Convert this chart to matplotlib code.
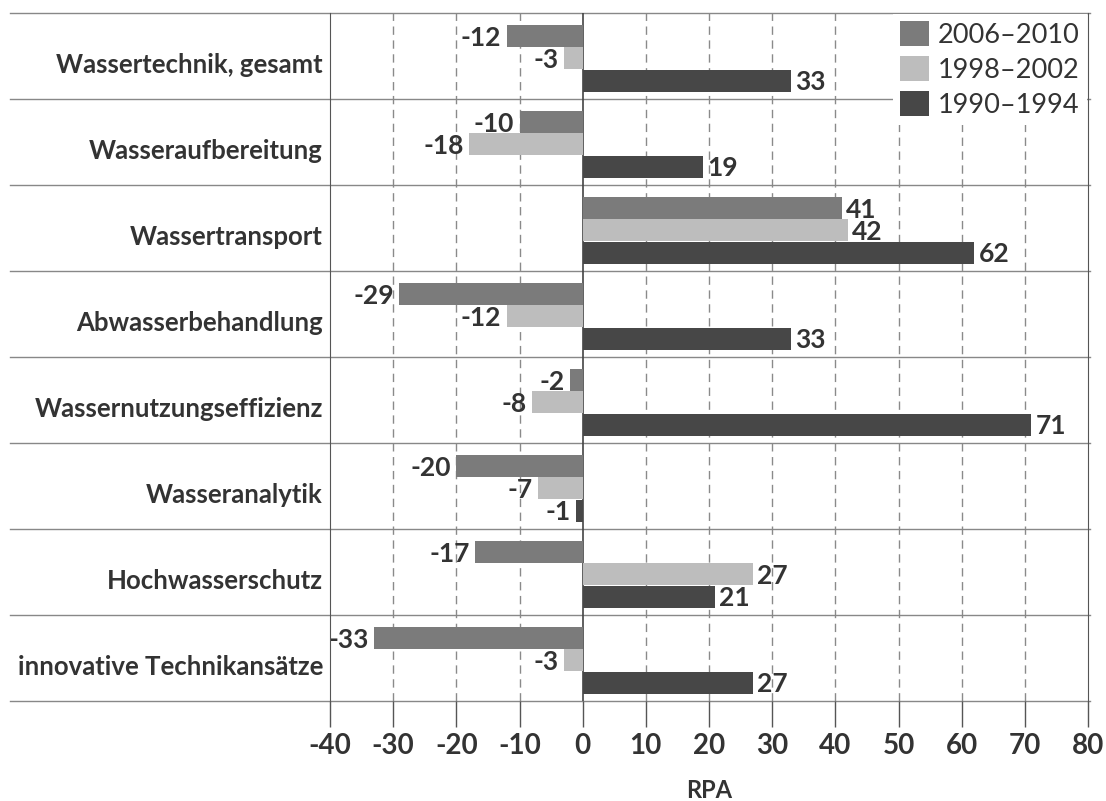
import matplotlib
matplotlib.use("Agg")
import matplotlib.pyplot as plt
from matplotlib.patches import Patch
import matplotlib.transforms as mtransforms

categories = ["Wassertechnik, gesamt", "Wasseraufbereitung", "Wassertransport",
              "Abwasserbehandlung", "Wassernutzungseffizienz", "Wasseranalytik",
              "Hochwasserschutz", "innovative Technikansätze"]
series_names = ["2006–2010", "1998–2002", "1990–1994"]
v2006 = [-12, -10, 41, -29, -2, -20, -17, -33]
v1998 = [-3, -18, 42, -12, -8, -7, 27, -3]
v1990 = [33, 19, 62, 33, 71, -1, 21, 27]
xticks = [-40, -30, -20, -10, 0, 10, 20, 30, 40, 50, 60, 70, 80]
x_label = "RPA"

colors = ["#7b7b7b", "#bdbdbd", "#474747"]
txt = "#333333"
plt.rcParams['font.family'] = ['Lato', 'DejaVu Sans']
plt.rcParams['font.weight'] = 'bold'

W, H = 1106, 801
fig = plt.figure(figsize=(W / 100, H / 100), dpi=100)
L, R, T, B = 330, 1088, 13, 701
ax = fig.add_axes([L / W, 1 - B / H, (R - L) / W, (B - T) / H])
ax.set_xlim(-40, 80)
ax.set_ylim(len(categories), 0)

offsets = [0.27, 0.525, 0.79]
bh = 0.25
for s, vals in enumerate([v2006, v1998, v1990]):
    for i, v in enumerate(vals):
        y = i + offsets[s]
        ax.barh(y, v, height=bh, color=colors[s], zorder=3, linewidth=0)
        if v < 0:
            ax.annotate(str(v), (v, y), xytext=(-4, -1), textcoords="offset points",
                        ha="right", va="center", fontsize=19, fontweight="bold",
                        color=txt, zorder=4)
        else:
            ax.annotate(str(v), (v, y), xytext=(3, -1), textcoords="offset points",
                        ha="left", va="center", fontsize=19, fontweight="bold",
                        color=txt, zorder=4)

# gridlines
for xv in xticks[1:-1]:
    if xv == 0:
        ax.axvline(0, color="#444444", lw=1.2, zorder=2)
    else:
        ax.axvline(xv, color="#8a8a8a", lw=1.0, ls=(0, (6, 4)), zorder=1)

# row separators extending left
trans = mtransforms.blended_transform_factory(fig.transFigure, ax.transData)
for i in range(len(categories) + 1):
    ax.plot([10 / W, 1090 / W], [i, i], transform=trans, color="#888888", lw=1.0,
            clip_on=False, zorder=1.5)

# category labels
for i, c in enumerate(categories):
    ax.text(323 / W, i + 0.6, c, transform=trans, ha="right", va="center",
            fontsize=18.5, fontweight="bold", color=txt)

for sp in ["top", "bottom"]:
    ax.spines[sp].set_visible(False)
ax.spines["left"].set_color("#555555")
ax.spines["right"].set_color("#555555")
ax.spines["left"].set_zorder(5)

ax.tick_params(axis="x", direction="out", length=19, width=1.0, color="#555555",
               labelcolor=txt, pad=4, labelsize=20)
ax.set_xticks(xticks)
ax.set_xticklabels([str(x) for x in xticks], fontsize=20, fontweight="bold", color=txt)
ax.set_yticks([])

fig.text((L + R) / 2 / W, 1 - 798 / H, x_label, ha="center", va="baseline",
         fontsize=17, fontweight="bold", color=txt)

handles = [Patch(facecolor=c, edgecolor="none") for c in colors]
leg = ax.legend(handles, series_names, loc="upper right", bbox_to_anchor=(1.0, 1.0),
                frameon=True, fancybox=False, framealpha=1.0, edgecolor="none",
                facecolor="white", prop={'family': ['Lato'], 'weight': 'normal', 'size': 19.5},
                handlelength=1.05, handleheight=1.05,
                handletextpad=0.35, labelspacing=0.3, borderpad=0.25, borderaxespad=0.05)
for t in leg.get_texts():
    t.set_color(txt)
leg.set_zorder(6)

fig.savefig("out.png", dpi=100, facecolor="white")
